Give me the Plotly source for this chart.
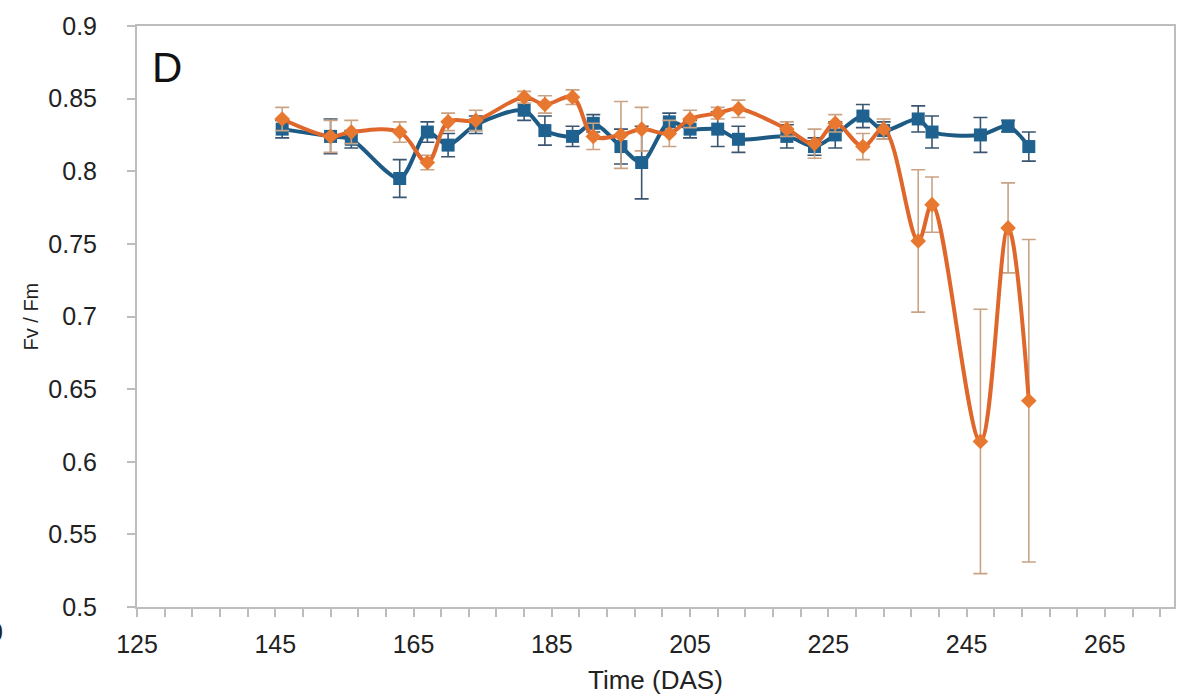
import plotly.graph_objects as go

# ---- data ----
das = [146, 153, 156, 163, 167, 170, 174, 181, 184, 188, 191, 195, 198, 202,
       205, 209, 212, 219, 223, 226, 230, 233, 238, 240, 247, 251, 254]

blue_vals = [0.829, 0.824, 0.822, 0.795, 0.827, 0.818, 0.832, 0.842, 0.828, 0.824,
             0.833, 0.817, 0.806, 0.834, 0.829, 0.829, 0.822, 0.824, 0.817, 0.825,
             0.838, 0.828, 0.836, 0.827, 0.825, 0.831, 0.817]
blue_err = [0.006, 0.012, 0.006, 0.013, 0.007, 0.008, 0.006, 0.007, 0.010, 0.007,
            0.006, 0.012, 0.025, 0.006, 0.006, 0.012, 0.009, 0.008, 0.006, 0.009,
            0.008, 0.006, 0.009, 0.011, 0.012, 0.004, 0.010]

orange_vals = [0.836, 0.824, 0.827, 0.827, 0.806, 0.834, 0.835, 0.851, 0.846, 0.851,
               0.824, 0.825, 0.829, 0.826, 0.836, 0.840, 0.843, 0.829, 0.819, 0.833,
               0.817, 0.829, 0.752, 0.777, 0.614, 0.761, 0.642]
orange_err = [0.008, 0.011, 0.008, 0.007, 0.005, 0.006, 0.007, 0.004, 0.006, 0.005,
              0.009, 0.023, 0.015, 0.009, 0.006, 0.004, 0.006, 0.005, 0.010, 0.006,
              0.009, 0.007, 0.049, 0.019, 0.091, 0.031, 0.111]

x_ticks = [125, 145, 165, 185, 205, 225, 245, 265]
y_ticks = [0.5, 0.55, 0.6, 0.65, 0.7, 0.75, 0.8, 0.85, 0.9]
y_tick_text = ["0.5", "0.55", "0.6", "0.65", "0.7", "0.75", "0.8", "0.85", "0.9"]

FONT = "Liberation Sans, Arial, sans-serif"
AXIS_GRAY = "#BDBDBD"

fig = go.Figure()

fig.add_trace(go.Scatter(
    x=das, y=blue_vals, mode="lines+markers",
    line=dict(color="#1D5A84", width=4, shape="spline", smoothing=0.8),
    marker=dict(symbol="square", size=13, color="#1F6290"),
    error_y=dict(type="data", array=blue_err, visible=True,
                 color="#3A5670", thickness=1.6, width=7),
    showlegend=False,
))

fig.add_trace(go.Scatter(
    x=das, y=orange_vals, mode="lines+markers",
    line=dict(color="#DF672B", width=4, shape="spline", smoothing=1.0),
    marker=dict(symbol="diamond", size=12, color="#E8782F"),
    error_y=dict(type="data", array=orange_err, visible=True,
                 color="#C9A384", thickness=1.6, width=7),
    showlegend=False,
))

fig.update_xaxes(
    range=[125, 275], tickvals=x_ticks, ticktext=[str(v) for v in x_ticks],
    showgrid=False, zeroline=False,
    showline=True, linecolor=AXIS_GRAY, linewidth=2, mirror=True,
    ticks="outside", ticklen=8, tickwidth=1.5, tickcolor=AXIS_GRAY,
    minor=dict(dtick=4, tick0=125, ticks="outside", ticklen=8,
               tickwidth=1.5, tickcolor=AXIS_GRAY, showgrid=False),
    tickfont=dict(family=FONT, size=25, color="#222222"),
    ticklabelstandoff=6,
)
fig.update_yaxes(
    range=[0.5, 0.9], tickvals=y_ticks, ticktext=y_tick_text,
    showgrid=False, zeroline=False,
    showline=True, linecolor=AXIS_GRAY, linewidth=2, mirror=True,
    ticks="outside", ticklen=8, tickwidth=1.5, tickcolor=AXIS_GRAY,
    tickfont=dict(family=FONT, size=25, color="#222222"),
    ticklabelstandoff=25,
)

fig.update_layout(
    width=1189, height=699,
    margin=dict(l=137, r=15, t=17, b=92),
    paper_bgcolor="white", plot_bgcolor="white",
    font=dict(family=FONT, color="#222222"),
    annotations=[
        dict(text="D", xref="paper", yref="paper", x=(167 - 137) / 1037,
             y=1 - (59 - 17) / 590, xanchor="center", yanchor="middle",
             showarrow=False, font=dict(family=FONT, size=42, color="#111111")),
        dict(text="Time (DAS)", xref="paper", yref="paper", x=0.5,
             y=-(681 - 607) / 590, xanchor="center", yanchor="middle",
             showarrow=False, font=dict(family=FONT, size=26, color="#222222")),
        dict(text="Fv / Fm", xref="paper", yref="paper", x=-(137 - 30) / 1037,
             y=0.5, xanchor="center", yanchor="middle", textangle=-90,
             showarrow=False, font=dict(family=FONT, size=20, color="#222222")),
        dict(text="0", xref="paper", yref="paper", x=-(137 - 5) / 1037,
             y=-(632 - 607) / 590, xanchor="right", yanchor="middle",
             showarrow=False, font=dict(family=FONT, size=25, color="#222222")),
    ],
)

fig.write_html("out.html")
